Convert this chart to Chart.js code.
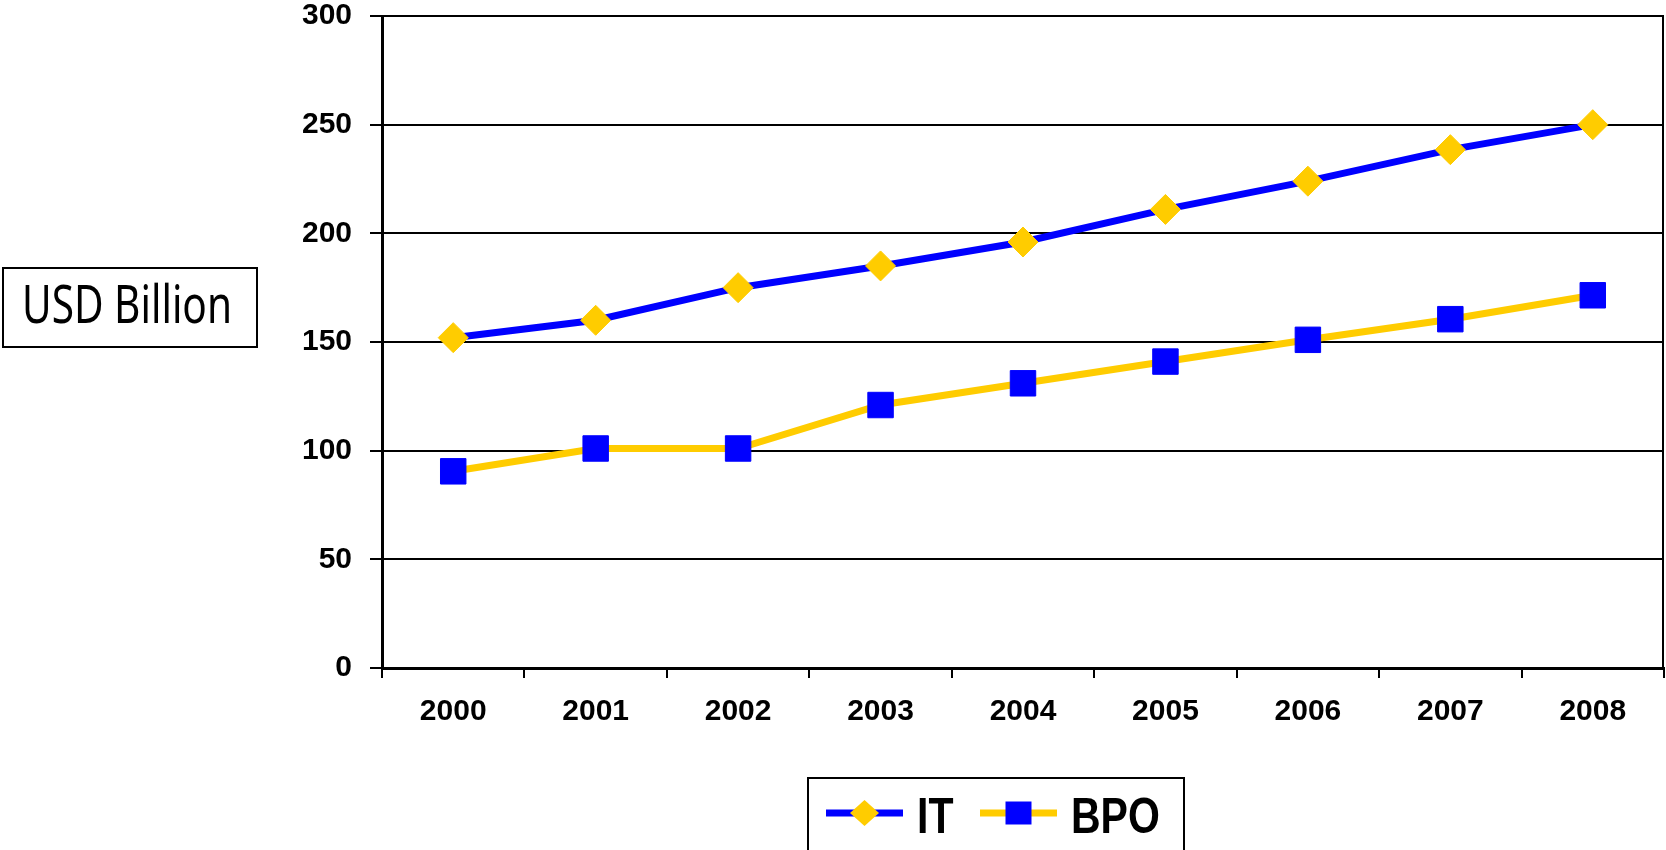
<!DOCTYPE html>
<html>
<head>
<meta charset="utf-8">
<script src="https://cdn.jsdelivr.net/npm/chart.js@4.4.1/dist/chart.umd.min.js"></script>
<style>
  html, body { margin: 0; padding: 0; background: #fff; }
  #wrap { width: 1666px; height: 850px; position: relative; }
</style>
</head>
<body>
<div id="wrap"><canvas id="chart" width="1666" height="850"></canvas></div>
<script>
(function() {
    'use strict';

    var years = ['2000', '2001', '2002', '2003', '2004', '2005', '2006', '2007', '2008'];
    var itValues = [152, 160, 175, 185, 196, 211, 224, 238.5, 250];
    var bpoValues = [90.5, 101, 101, 121, 131, 141, 151, 160.5, 171.5];
    var yMin = 0, yMax = 300, yStep = 50;
    var unitLabel = 'USD Billion';

    var BLUE = '#0000FF';
    var GOLD = '#FFCC00';

    // text squeezed sideways, the source uses narrow faces that are not installed
    function narrowText(ctx, text, x, y, font, sx) {
        ctx.save();
        ctx.font = font;
        ctx.translate(x, y);
        ctx.scale(sx, 1);
        ctx.fillText(text, 0, 0);
        ctx.restore();
    }

    // plot frame on the right, "USD Billion" box and the boxed legend under the axis
    var extras = {
        id: 'extras',
        afterDraw: function(chart) {
            var ctx = chart.ctx;
            var a = chart.chartArea;
            ctx.save();

            ctx.strokeStyle = '#000';
            ctx.lineWidth = 2;
            ctx.beginPath();
            ctx.moveTo(a.right - 1, a.top);
            ctx.lineTo(a.right - 1, a.bottom);
            ctx.stroke();

            ctx.strokeRect(3, 268, 254, 79);
            ctx.fillStyle = '#000';
            ctx.textBaseline = 'alphabetic';
            ctx.textAlign = 'left';
            var uFont = '53px "Noto Sans", "Open Sans", sans-serif';
            ctx.font = uFont;
            narrowText(ctx, unitLabel, 22, 323, uFont, 210 / ctx.measureText(unitLabel).width);

            ctx.strokeRect(808, 778, 376, 76);
            var items = [
                { ds: chart.data.datasets[0], lx: 826, tx: 917 },
                { ds: chart.data.datasets[1], lx: 980, tx: 1071 }
            ];
            items.forEach(function(it) {
                var ds = it.ds, cy = 813, cx = it.lx + 38.5;
                ctx.strokeStyle = ds.borderColor;
                ctx.lineWidth = 7;
                ctx.beginPath();
                ctx.moveTo(it.lx, cy);
                ctx.lineTo(it.lx + 77, cy);
                ctx.stroke();
                ctx.fillStyle = ds.pointBackgroundColor;
                ctx.beginPath();
                if (ds.pointStyle === 'rectRot') {
                    ctx.moveTo(cx - 14.5, cy);
                    ctx.lineTo(cx, cy - 13);
                    ctx.lineTo(cx + 14.5, cy);
                    ctx.lineTo(cx, cy + 13);
                    ctx.closePath();
                } else {
                    ctx.rect(cx - 13, cy - 11.5, 26, 23);
                }
                ctx.fill();
                ctx.fillStyle = '#000';
                narrowText(ctx, ds.label, it.tx, 833, 'bold 50px "Liberation Sans", Arial, sans-serif', 0.82);
            });
            ctx.restore();
        }
    };

    var xFont = { family: '"Liberation Sans", Arial, sans-serif', size: 30, weight: 'bold' };
    var yFont = { family: '"Liberation Sans", Arial, sans-serif', size: 30, weight: 'bold', lineHeight: 1.1 };

    new Chart(document.getElementById('chart'), {
        type: 'line',
        data: {
            labels: years,
            datasets: [
                {
                    label: 'IT',
                    data: itValues,
                    borderColor: BLUE,
                    borderWidth: 7,
                    tension: 0,
                    pointStyle: 'rectRot',
                    pointRadius: 15,
                    pointBackgroundColor: GOLD,
                    pointBorderColor: GOLD,
                    pointBorderWidth: 1
                },
                {
                    label: 'BPO',
                    data: bpoValues,
                    borderColor: GOLD,
                    borderWidth: 7,
                    tension: 0,
                    pointStyle: 'rect',
                    pointRadius: 18,
                    pointBackgroundColor: BLUE,
                    pointBorderColor: BLUE,
                    pointBorderWidth: 1
                }
            ]
        },
        options: {
            responsive: false,
            animation: false,
            clip: false,
            layout: { autoPadding: false, padding: { top: 16, right: 2, left: 0, bottom: 0 } },
            plugins: { legend: { display: false }, tooltip: { enabled: false } },
            scales: {
                x: {
                    offset: true,
                    grid: { offset: true, drawOnChartArea: false, drawTicks: true, tickLength: 10, color: '#000', lineWidth: 2 },
                    border: { display: true, color: '#000', width: 3 },
                    ticks: { color: '#000', font: xFont, padding: 16, maxRotation: 0, autoSkip: false },
                    afterFit: function(s) {
                        s.height = 182;
                        s.paddingLeft = 0;
                        s.paddingRight = 0;
                    }
                },
                y: {
                    min: yMin,
                    max: yMax,
                    grid: { color: '#000', lineWidth: 2, tickLength: 12 },
                    border: { display: true, color: '#000', width: 3 },
                    ticks: { stepSize: yStep, color: '#000', font: yFont, padding: 18 },
                    afterFit: function(s) {
                        s.width = 382;
                        s.paddingTop = 0;
                        s.paddingBottom = 0;
                    }
                }
            }
        },
        plugins: [extras]
    });
})();
</script>
</body>
</html>
